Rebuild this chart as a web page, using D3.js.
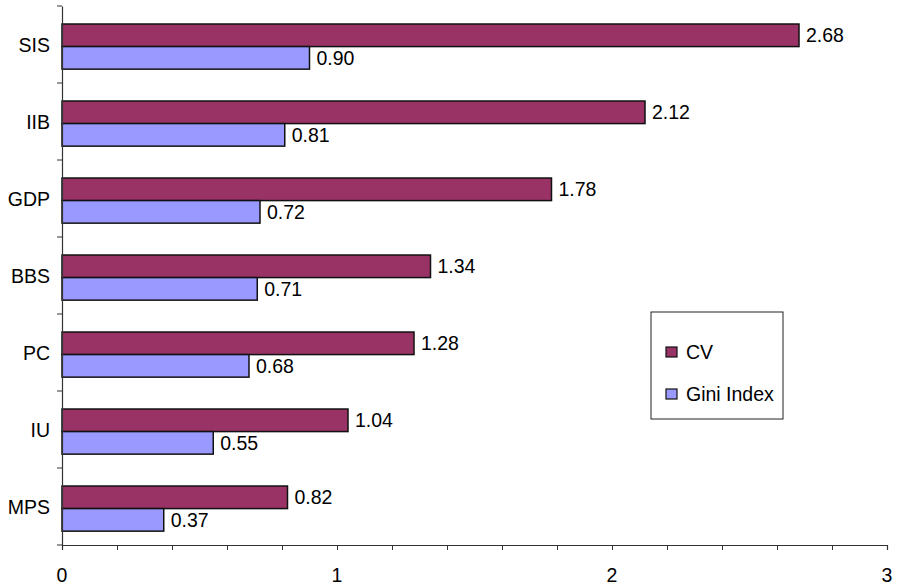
<!DOCTYPE html>
<html>
<head>
<meta charset="utf-8">
<script src="https://cdn.jsdelivr.net/npm/d3@7"></script>
<style>
  body { margin: 0; background: #fff; }
  text { font-family: "Liberation Sans", Arial, sans-serif; }
</style>
</head>
<body>
<div id="chart"></div>
<script>
// Chart data
var categories = ["SIS", "IIB", "GDP", "BBS", "PC", "IU", "MPS"];
var seriesNames = ["CV", "Gini Index"];
var cvValues = [2.68, 2.12, 1.78, 1.34, 1.28, 1.04, 0.82];
var giniValues = [0.90, 0.81, 0.72, 0.71, 0.68, 0.55, 0.37];
var xTicks = [0, 1, 2, 3];

var colors = ["#993366", "#9999ff"];
var fontSize = 19.5;

var width = 897, height = 586;
// plot area edges (avoid "top" which clashes with window.top)
var plot = { left: 62, right: 887, top: 6, bottom: 545 };

var svg = d3.select("#chart").append("svg")
  .attr("width", width)
  .attr("height", height);

var x = d3.scaleLinear().domain([0, 3]).range([plot.left, plot.right]);

var y = d3.scaleBand().domain(categories).range([plot.top, plot.bottom]);

// inner scale for the two bars inside each band
var yInner = d3.scaleBand().domain(seriesNames)
  .range([y.bandwidth() * 0.234, y.bandwidth() * 0.82]);

var data = categories.map(function (c, i) {
  return { cat: c, vals: [cvValues[i], giniValues[i]] };
});

var groups = svg.selectAll("g.cat")
  .data(data)
  .enter()
  .append("g")
  .attr("class", "cat")
  .attr("transform", function (d) { return "translate(0," + y(d.cat) + ")"; });

groups.selectAll("rect")
  .data(function (d) { return d.vals.map(function (v, j) { return { s: seriesNames[j], v: v, j: j }; }); })
  .enter()
  .append("rect")
  .attr("x", x(0))
  .attr("y", function (d) { return yInner(d.s); })
  .attr("width", function (d) { return x(d.v) - x(0); })
  .attr("height", yInner.bandwidth())
  .attr("fill", function (d) { return colors[d.j]; })
  .attr("stroke", "#111")
  .attr("stroke-width", 1.5);

groups.selectAll("text.val")
  .data(function (d) { return d.vals.map(function (v, j) { return { s: seriesNames[j], v: v }; }); })
  .enter()
  .append("text")
  .attr("class", "val")
  .attr("x", function (d) { return x(d.v) + 7; })
  .attr("y", function (d) { return yInner(d.s) + yInner.bandwidth() / 2; })
  .attr("dy", "0.36em")
  .attr("font-size", fontSize)
  .attr("fill", "#000")
  .text(function (d) { return d3.format(".2f")(d.v); });

// X axis
var xAxis = svg.append("g")
  .attr("transform", "translate(0," + plot.bottom + ")")
  .call(d3.axisBottom(x).tickValues(d3.range(0, 3.01, 0.2)).tickSize(5).tickFormat(""));
xAxis.select(".domain").attr("stroke", "#333").attr("stroke-width", 1.2);
xAxis.selectAll(".tick line").attr("stroke", "#333");

svg.append("g").selectAll("text")
  .data(xTicks)
  .enter()
  .append("text")
  .attr("x", function (d) { return x(d); })
  .attr("y", plot.bottom + 37)
  .attr("text-anchor", "middle")
  .attr("font-size", fontSize)
  .attr("fill", "#000")
  .text(function (d) { return d; });

// Y axis
var yAxis = svg.append("g")
  .attr("transform", "translate(" + plot.left + ",0)")
  .call(d3.axisLeft(y).tickSize(0).tickFormat(""));
yAxis.select(".domain").attr("stroke", "#333").attr("stroke-width", 1.2);
yAxis.selectAll(".tick").remove();

// ticks at band boundaries
svg.append("g").selectAll("line")
  .data(categories.concat(["end"]))
  .enter()
  .append("line")
  .attr("x1", plot.left - 5)
  .attr("x2", plot.left)
  .attr("y1", function (d, i) { return plot.top + i * y.bandwidth(); })
  .attr("y2", function (d, i) { return plot.top + i * y.bandwidth(); })
  .attr("stroke", "#333");

svg.append("g").selectAll("text")
  .data(categories)
  .enter()
  .append("text")
  .attr("x", plot.left - 12)
  .attr("y", function (d) { return y(d) + y.bandwidth() / 2; })
  .attr("dy", "0.36em")
  .attr("text-anchor", "end")
  .attr("font-size", fontSize)
  .attr("fill", "#000")
  .text(function (d) { return d; });

// Legend
var legend = svg.append("g").attr("transform", "translate(651,312)");
legend.append("rect")
  .attr("width", 132).attr("height", 107)
  .attr("fill", "#fff").attr("stroke", "#222").attr("stroke-width", 1);

seriesNames.forEach(function (s, i) {
  legend.append("rect")
    .attr("x", 15).attr("y", 35 + i * 42)
    .attr("width", 11).attr("height", 10)
    .attr("fill", colors[i]).attr("stroke", "#111").attr("stroke-width", 1.2);
  legend.append("text")
    .attr("x", 35).attr("y", 40 + i * 42)
    .attr("dy", "0.36em")
    .attr("font-size", fontSize)
    .attr("fill", "#000")
    .text(s);
});
</script>
</body>
</html>
